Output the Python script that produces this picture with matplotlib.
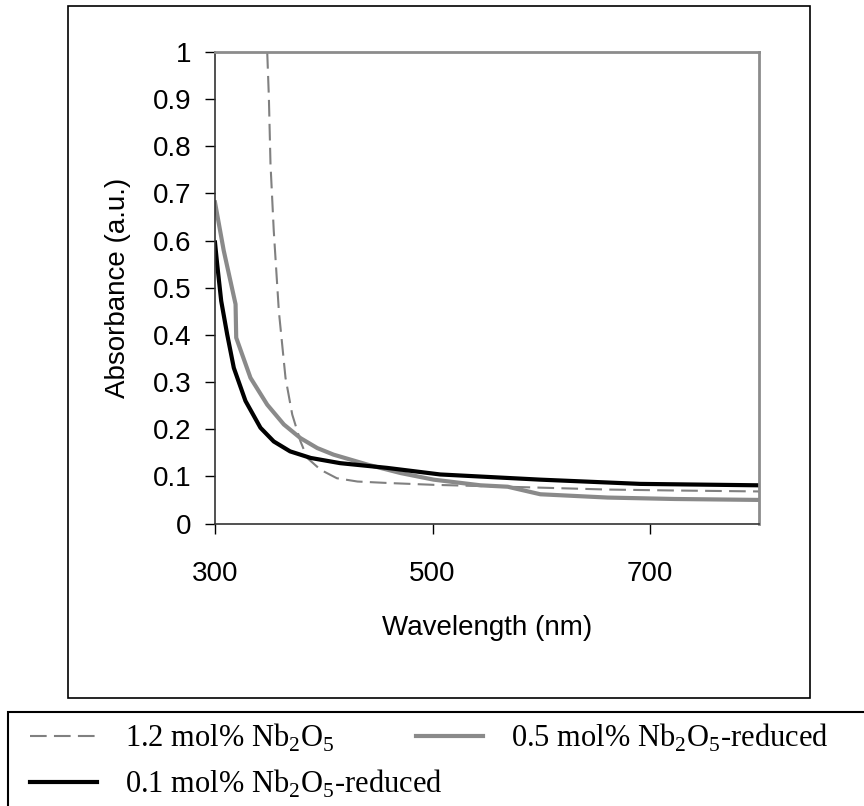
import numpy as np
import matplotlib
matplotlib.use("Agg")
import matplotlib.pyplot as plt
from matplotlib.patches import Rectangle

plt.rcParams['font.family'] = ['Liberation Sans', 'DejaVu Sans']
plt.rcParams['mathtext.fontset'] = 'custom'
plt.rcParams['mathtext.rm'] = 'Liberation Serif'

# 1.2 mol% Nb2O5 (dashed)
wl_12 = [348, 349.5, 351, 354, 358.7, 364.8, 371, 378.6, 384.8, 397, 412, 431, 458, 501, 584, 661, 722, 800]
abs_12 = [1.0, 0.905, 0.763, 0.621, 0.45, 0.309, 0.231, 0.174, 0.139, 0.114, 0.096, 0.089, 0.086, 0.082,
          0.077, 0.072, 0.070, 0.068]

# 0.5 mol% Nb2O5-reduced (grey)
wl_05 = [300, 308, 318.9, 319.5, 332.6, 348, 363.3, 378.6, 394, 409, 440, 470.6, 501, 544, 569, 599, 661, 722, 800]
abs_05 = [0.681, 0.579, 0.465, 0.394, 0.309, 0.252, 0.210, 0.181, 0.160, 0.146, 0.125, 0.107, 0.093, 0.081,
          0.078, 0.062, 0.055, 0.052, 0.050]

# 0.1 mol% Nb2O5-reduced (black)
wl_01 = [300, 302, 305.7, 311.2, 317.3, 328, 341.8, 354, 369, 388, 415, 458, 507, 599, 691, 800]
abs_01 = [0.596, 0.55, 0.472, 0.401, 0.330, 0.26, 0.203, 0.174, 0.153, 0.139, 0.128, 0.118, 0.104, 0.093,
          0.084, 0.081]

labels = ['1.2 mol% Nb$_\\mathregular{2}$O$_\\mathregular{5}$',
          '0.5 mol% Nb$_\\mathregular{2}$O$_\\mathregular{5}$-reduced',
          '0.1 mol% Nb$_\\mathregular{2}$O$_\\mathregular{5}$-reduced']
yticks = [0, 0.1, 0.2, 0.3, 0.4, 0.5, 0.6, 0.7, 0.8, 0.9, 1]
ytick_labels = ['0', '0.1', '0.2', '0.3', '0.4', '0.5', '0.6', '0.7', '0.8', '0.9', '1']
xticks = [300, 500, 700]

fig = plt.figure(figsize=(8.64, 8.06), dpi=100)
ax = fig.add_axes([215/864, 1-523.5/806, (759-215)/864, (523.5-52)/806])

l12, = ax.plot(wl_12, abs_12, color='#808080', lw=1.5, dashes=(8, 3.5))
l05, = ax.plot(wl_05, abs_05, color='#8a8a8a', lw=3)
l01, = ax.plot(wl_01, abs_01, color='black', lw=3)

ax.set_xlim(300, 800)
ax.set_ylim(0, 1)
ax.set_xticks(xticks)
ax.set_xticklabels([str(x) for x in xticks])
ax.set_yticks(yticks)
ax.set_yticklabels(ytick_labels)
ax.tick_params(axis='y', direction='out', length=7, width=1, labelsize=20, pad=10)
ax.tick_params(axis='x', direction='out', length=7, width=1, labelsize=20, pad=20)
for s in ['left', 'bottom']:
    ax.spines[s].set_color('#333333')
    ax.spines[s].set_linewidth(1.2)
for s in ['top', 'right']:
    ax.spines[s].set_color('#8c8c8c')
    ax.spines[s].set_linewidth(2)
ax.set_xlabel('Wavelength (nm)', fontsize=20, labelpad=20)
ax.set_ylabel('Absorbance (a.u.)', fontsize=20)
ax.yaxis.set_label_coords(-0.155, 0.5)

# outer chart border and legend box
fig.patches.append(Rectangle((68/864, 1-698/806), (810-68)/864, (698-6)/806, transform=fig.transFigure,
                             fill=False, ec='black', lw=1.2))
fig.patches.append(Rectangle((8/864, -0.05), 1.1, 1-711.5/806+0.05, transform=fig.transFigure,
                             fill=False, ec='black', lw=1.5))

fig.legend([l12, l01, l05], [labels[0], labels[2], labels[1]], ncol=2, frameon=False,
           loc='upper left', bbox_to_anchor=(30/864, 1-722/806), borderpad=0, borderaxespad=0,
           prop={'family': 'Liberation Serif', 'size': 22}, handlelength=2.2, handletextpad=0.9,
           columnspacing=-0.85, labelspacing=0.45)

fig.savefig('out.png', dpi=100)
